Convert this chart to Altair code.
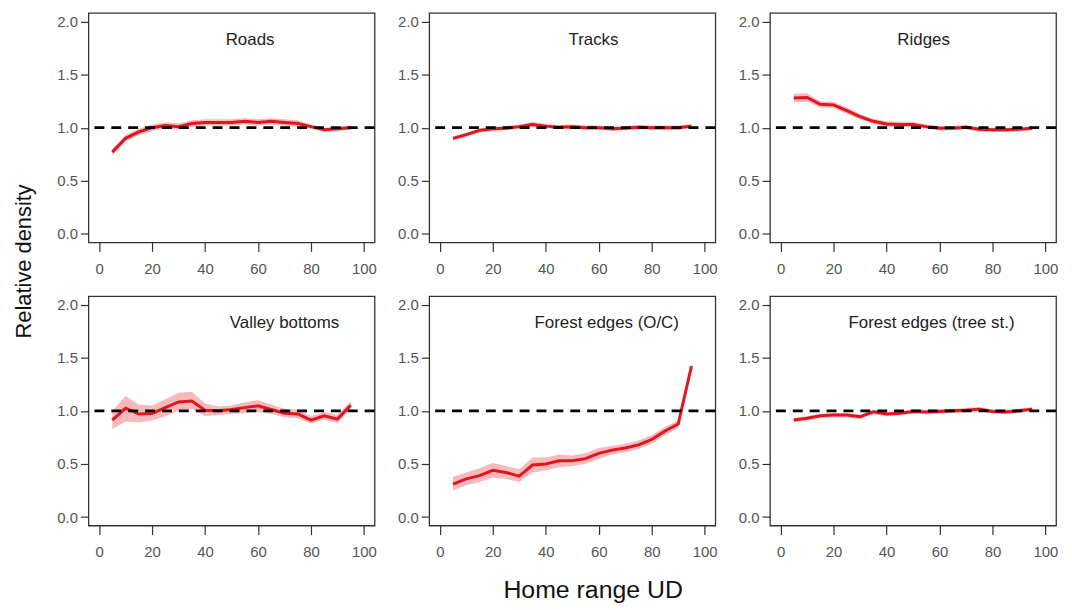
import altair as alt
import pandas as pd

# ---------------- data ----------------
ud = [5, 10, 15, 20, 25, 30, 35, 40, 45, 50, 55, 60, 65, 70, 75, 80, 85, 90, 95]

names = ["Roads", "Tracks", "Ridges", "Valley bottoms", "Forest edges (O/C)", "Forest edges (tree st.)"]

roads_mean = [0.77, 0.90, 0.96, 1.00, 1.02, 1.01, 1.04, 1.05, 1.05, 1.05, 1.06, 1.05, 1.06, 1.05, 1.04, 1.01, 0.98, 0.99, 1.00]
roads_lo   = [0.74, 0.87, 0.93, 0.97, 0.99, 0.98, 1.01, 1.02, 1.02, 1.02, 1.03, 1.02, 1.03, 1.02, 1.01, 0.99, 0.96, 0.97, 0.98]
roads_hi   = [0.80, 0.93, 0.99, 1.03, 1.05, 1.04, 1.07, 1.08, 1.08, 1.08, 1.09, 1.08, 1.09, 1.08, 1.07, 1.03, 1.00, 1.01, 1.02]

tracks_mean = [0.90, 0.935, 0.975, 0.99, 0.995, 1.01, 1.03, 1.015, 1.005, 1.01, 1.00, 1.00, 0.99, 0.995, 1.005, 1.00, 1.00, 1.00, 1.015]
tracks_lo   = [0.88, 0.915, 0.955, 0.97, 0.975, 0.99, 1.005, 0.995, 0.985, 0.99, 0.98, 0.98, 0.97, 0.975, 0.985, 0.98, 0.98, 0.98, 0.995]
tracks_hi   = [0.92, 0.955, 0.995, 1.01, 1.015, 1.03, 1.055, 1.035, 1.025, 1.03, 1.02, 1.02, 1.01, 1.015, 1.025, 1.02, 1.02, 1.02, 1.035]

ridges_mean = [1.28, 1.285, 1.22, 1.215, 1.16, 1.105, 1.06, 1.035, 1.03, 1.03, 1.01, 0.995, 0.995, 1.005, 0.985, 0.98, 0.98, 0.985, 0.995]
ridges_lo   = [1.24, 1.245, 1.19, 1.185, 1.13, 1.08, 1.035, 1.01, 1.005, 1.005, 0.99, 0.975, 0.975, 0.985, 0.965, 0.96, 0.96, 0.965, 0.975]
ridges_hi   = [1.32, 1.325, 1.25, 1.245, 1.19, 1.13, 1.085, 1.06, 1.055, 1.055, 1.03, 1.015, 1.015, 1.025, 1.005, 1.00, 1.00, 1.005, 1.015]

valley_mean = [0.913, 1.025, 0.97, 0.975, 1.03, 1.084, 1.093, 1.006, 1.00, 1.012, 1.03, 1.047, 1.012, 0.978, 0.97, 0.913, 0.953, 0.922, 1.053]
valley_lo   = [0.83, 0.90, 0.89, 0.91, 0.95, 1.00, 1.02, 0.95, 0.96, 0.97, 0.98, 0.99, 0.97, 0.94, 0.93, 0.88, 0.915, 0.885, 1.02]
valley_hi   = [1.00, 1.14, 1.06, 1.05, 1.11, 1.17, 1.18, 1.07, 1.04, 1.05, 1.08, 1.10, 1.06, 1.02, 1.01, 0.95, 0.99, 0.96, 1.09]

oc_mean = [0.31, 0.36, 0.39, 0.44, 0.42, 0.385, 0.49, 0.50, 0.53, 0.53, 0.55, 0.60, 0.63, 0.65, 0.68, 0.73, 0.81, 0.875, 1.42]
oc_lo   = [0.25, 0.30, 0.33, 0.37, 0.36, 0.33, 0.42, 0.44, 0.47, 0.48, 0.50, 0.55, 0.59, 0.61, 0.64, 0.69, 0.77, 0.84, 1.40]
oc_hi   = [0.38, 0.42, 0.46, 0.51, 0.48, 0.45, 0.56, 0.56, 0.59, 0.58, 0.60, 0.65, 0.67, 0.69, 0.72, 0.77, 0.85, 0.91, 1.44]

tree_mean = [0.913, 0.93, 0.953, 0.96, 0.96, 0.944, 0.99, 0.97, 0.978, 0.994, 0.988, 0.994, 1.00, 1.006, 1.016, 0.994, 0.99, 1.00, 1.016]
tree_lo   = [0.893, 0.91, 0.933, 0.94, 0.94, 0.924, 0.97, 0.95, 0.958, 0.974, 0.968, 0.974, 0.98, 0.986, 0.996, 0.974, 0.97, 0.98, 0.996]
tree_hi   = [0.933, 0.95, 0.973, 0.98, 0.98, 0.964, 1.01, 0.99, 0.998, 1.014, 1.008, 1.014, 1.02, 1.026, 1.036, 1.014, 1.01, 1.02, 1.036]

series = [
    (roads_mean, roads_lo, roads_hi),
    (tracks_mean, tracks_lo, tracks_hi),
    (ridges_mean, ridges_lo, ridges_hi),
    (valley_mean, valley_lo, valley_hi),
    (oc_mean, oc_lo, oc_hi),
    (tree_mean, tree_lo, tree_hi),
]

x_ticks = [0, 20, 40, 60, 80, 100]
y_ticks = [0.0, 0.5, 1.0, 1.5, 2.0]
ref_level = [1.0]

# label anchor positions (data units) – layout, not data
label_x = [57, 58, 54, 70, 63, 57]
label_y = 1.78

# ---------------- style ----------------
FONT = "Liberation Sans"
W, H = 288, 231
LINE_RED = "#e3141c"
BAND = "#f6babd"

xs = alt.Scale(domain=[-4, 104], nice=False, zero=False)
ys = alt.Scale(domain=[-0.08, 2.08], nice=False, zero=False)

xax = alt.Axis(values=x_ticks, title=None, grid=False, domain=False, tickSize=9,
               tickColor="#333", tickWidth=1.2, labelFont=FONT, labelFontSize=15,
               labelColor="#555", labelPadding=10, labelFlush=False)
yax = alt.Axis(values=y_ticks, format=".1f", title=None, grid=False, domain=False,
               tickSize=8, tickColor="#333", tickWidth=1.2, labelFont=FONT,
               labelFontSize=15, labelColor="#555", labelPadding=3)


def X(field):
    return alt.X(field, type="quantitative", scale=xs, axis=xax)


def Y(field):
    return alt.Y(field, type="quantitative", scale=ys, axis=yax)


def panel(i):
    mean, lo, hi = series[i]
    df = pd.DataFrame({"ud": ud, "mean": mean, "lo": lo, "hi": hi})
    base = alt.Chart(df)
    band = base.mark_area(color=BAND, opacity=1).encode(x=X("ud"), y=Y("lo"), y2="hi")
    line = base.mark_line(color=LINE_RED, strokeWidth=3).encode(x=X("ud"), y=Y("mean"))
    ref = alt.Chart(pd.DataFrame({"ref": ref_level})).mark_rule(
        color="black", strokeWidth=2.8, strokeDash=[10, 7]).encode(y=Y("ref"))
    lab = alt.Chart(pd.DataFrame({"lx": [label_x[i]], "ly": [label_y], "t": [names[i]]})).mark_text(
        font=FONT, fontSize=17, color="#222", align="center", baseline="alphabetic"
    ).encode(x=X("lx"), y=Y("ly"), text="t:N")
    layers = [band, line, ref, lab]
    if i == 0:
        layers.append(
            alt.Chart(pd.DataFrame({"t": ["Relative density"]})).mark_text(
                font=FONT, fontSize=22, color="#111", angle=270, align="center", baseline="middle"
            ).encode(x=alt.value(-65), y=alt.value(250), text="t:N")
        )
    if i == 4:
        layers.append(
            alt.Chart(pd.DataFrame({"t": ["Home range UD"]})).mark_text(
                font=FONT, fontSize=25, color="#111", align="center", baseline="middle"
            ).encode(x=alt.value(165), y=alt.value(296), text="t:N")
        )
    return alt.layer(*layers).properties(
        width=W, height=H,
        view=alt.ViewBackground(stroke="#333", strokeWidth=1.3, fill="white"),
    )


chart = alt.concat(
    *[panel(i) for i in range(6)],
    columns=3, spacing={"row": 54, "column": 55}, bounds="flush"
).properties(
    padding={"left": 4, "top": 2, "right": 5, "bottom": 5}
).configure(background="white")

chart.save("out.html", embed_options={"renderer": "svg", "actions": False})
